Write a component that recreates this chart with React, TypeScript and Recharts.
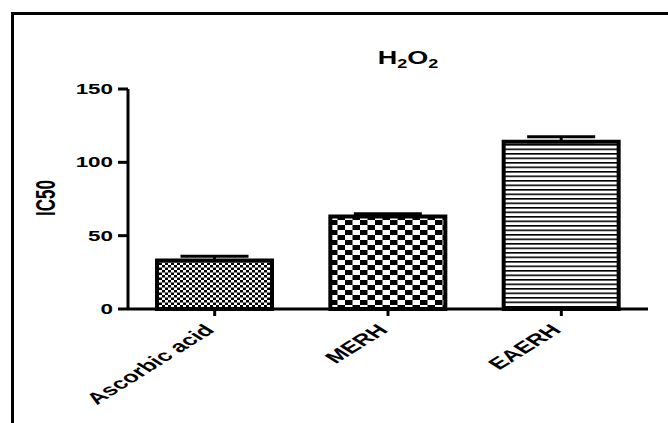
import React from 'react';
import { BarChart, Bar, XAxis, YAxis, Cell, ErrorBar } from 'recharts';

const categories = ['Ascorbic acid', 'MERH', 'EAERH'];
const ic50Values = [33, 63, 114];
const ic50Errors = [3, 2, 3.5];
const yTicks = [0, 50, 100, 150];
const patternIds = ['fineChecker', 'coarseChecker', 'hLines'];

const data = categories.map((name, i) => ({
  name,
  value: ic50Values[i],
  err: [0, ic50Errors[i]],
}));

const SX = 1.6;
const FONT = '"Liberation Sans", Arial, sans-serif';

const XTick = (props: any) => {
  const { x, y, payload } = props;
  return (
    <text
      transform={`translate(${x + 1},${y + 13}) scale(${SX},1) rotate(-45)`}
      textAnchor="end"
      fontFamily={FONT}
      fontWeight="bold"
      fontSize={16}
      fill="#000"
    >
      {payload.value}
    </text>
  );
};

const YTick = (props: any) => {
  const { x, y, payload } = props;
  return (
    <text
      transform={`translate(${x},${y}) scale(${SX},1)`}
      textAnchor="end"
      dy="0.36em"
      fontFamily={FONT}
      fontWeight="bold"
      fontSize={14}
      fill="#000"
    >
      {payload.value}
    </text>
  );
};

export default function App() {
  return (
    <div style={{ position: 'absolute', left: 0, top: 0, width: 668, height: 423, background: '#fff', overflow: 'hidden' }}>
      <svg width={0} height={0} style={{ position: 'absolute' }}>
        <defs>
          <pattern id="fineChecker" patternUnits="userSpaceOnUse" width={6} height={5}>
            <rect width={6} height={5} fill="#fff" />
            <rect x={0} y={0} width={3} height={2.5} fill="#000" />
            <rect x={3} y={2.5} width={3} height={2.5} fill="#000" />
          </pattern>
          <pattern id="coarseChecker" patternUnits="userSpaceOnUse" width={15} height={10}>
            <rect width={15} height={10} fill="#fff" />
            <rect x={0} y={0} width={7.5} height={5} fill="#000" />
            <rect x={7.5} y={5} width={7.5} height={5} fill="#000" />
          </pattern>
          <pattern id="hLines" patternUnits="userSpaceOnUse" width={10} height={4.5}>
            <rect width={10} height={4.5} fill="#fff" />
            <rect x={0} y={0} width={10} height={1.6} fill="#000" />
          </pattern>
        </defs>
      </svg>
      <BarChart
        width={668}
        height={423}
        data={data}
        margin={{ top: 89, right: 20, bottom: 54, left: 68 }}
      >
        <XAxis
          dataKey="name"
          height={60}
          interval={0}
          axisLine={{ stroke: '#000', strokeWidth: 3 }}
          tickLine={{ stroke: '#000', strokeWidth: 3 }}
          tickSize={7}
          tick={<XTick />}
        />
        <YAxis
          width={60}
          domain={[0, 150]}
          ticks={yTicks}
          interval={0}
          axisLine={{ stroke: '#000', strokeWidth: 3 }}
          tickLine={{ stroke: '#000', strokeWidth: 3 }}
          tickSize={10}
          tickMargin={5}
          tick={<YTick />}
        />
        <Bar dataKey="value" barSize={115} stroke="#000" strokeWidth={4} isAnimationActive={false}>
          {data.map((d, i) => (
            <Cell key={d.name} fill={`url(#${patternIds[i]})`} />
          ))}
          <ErrorBar dataKey="err" direction="y" width={34} strokeWidth={3} stroke="#000" isAnimationActive={false} />
        </Bar>
      </BarChart>
      <svg width={668} height={423} style={{ position: 'absolute', left: 0, top: 0, pointerEvents: 'none' }}>
        <path d="M12.5 423 V13.5 H668" stroke="#000" strokeWidth={3} fill="none" />
        <text
          transform={`translate(408,64) scale(1.5,1)`}
          textAnchor="middle"
          fontFamily={FONT}
          fontWeight="bold"
          fontSize={18}
          fill="#000"
        >
          H<tspan fontSize={12} dy={4}>2</tspan>
          <tspan dy={-4}>O</tspan>
          <tspan fontSize={12} dy={4}>2</tspan>
        </text>
        <text
          transform={`translate(45,198) scale(${SX},1) rotate(-90)`}
          textAnchor="middle"
          dy="0.36em"
          fontFamily={FONT}
          fontWeight="bold"
          fontSize={17}
          fill="#000"
        >
          IC50
        </text>
      </svg>
    </div>
  );
}
